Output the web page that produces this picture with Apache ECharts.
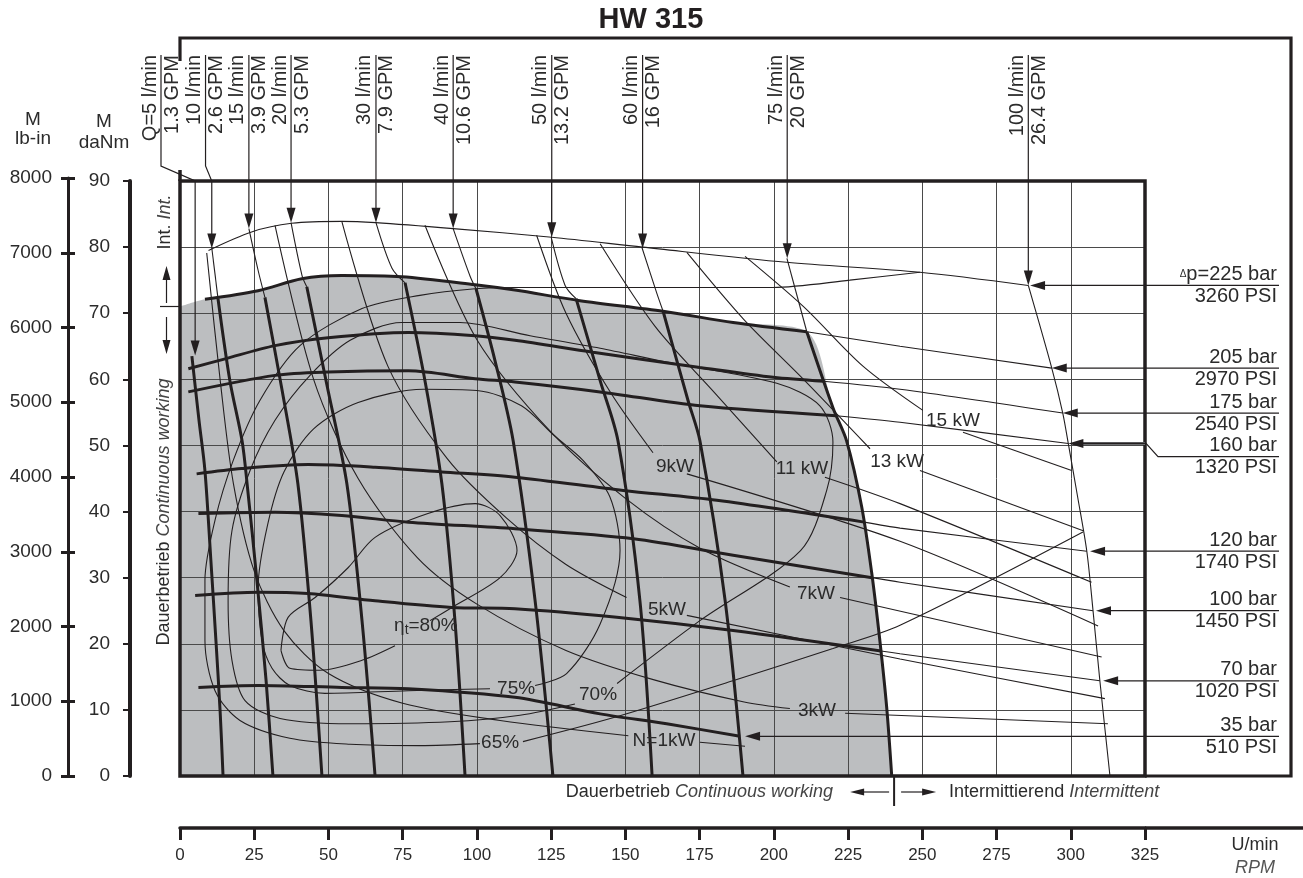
<!DOCTYPE html>
<html>
<head>
<meta charset="utf-8">
<title>HW 315</title>
<script src="https://cdn.jsdelivr.net/npm/echarts@6/dist/echarts.min.js"></script>
<style>
  html, body { margin: 0; padding: 0; background: #fff; }
  #chart { width: 1303px; height: 878px; }
</style>
</head>
<body>
<div id="chart"></div>
<script>
const rpmTicks = [0, 25, 50, 75, 100, 125, 150, 175, 200, 225, 250, 275, 300, 325];
const daNmTicks = [0, 10, 20, 30, 40, 50, 60, 70, 80, 90];
const lbinTicks = [0, 1000, 2000, 3000, 4000, 5000, 6000, 7000, 8000];

// grijs vlak: Dauerbetrieb / continuous working
const continuousArea = [[0, 71.0], [8.4, 72.1], [26.3, 73.4], [41.0, 75.2], [54.5, 75.7], [74.7, 75.5], [99.4, 74.3], [112.8, 73.5], [134.7, 71.9], [162.7, 70.3], [186.3, 68.6], [211.1, 67.2], [220.0, 55.6], [224.5, 50.7], [229.6, 40.7], [233.0, 30.6], [235.7, 20.5], [238.0, 10.4], [239.7, 0]];

// drukcurves (dik = continu, dun = intermitterend)
const bar225 = [[9.6, 79.5], [24.1, 82.3], [37.6, 83.6], [54.5, 83.9], [65.9, 83.7], [92.0, 82.8], [125.2, 81.5], [155.8, 80.0], [204.3, 77.7], [249.2, 76.2], [285.7, 74.2]];
const bar205Cont = [[8.4, 72.1], [26.3, 73.4], [41.0, 75.2], [54.5, 75.7], [74.7, 75.5], [99.4, 74.3], [112.8, 73.5], [134.7, 71.9], [162.7, 70.3], [186.3, 68.6], [211.1, 67.2]];
const bar205Int = [[211.1, 67.2], [242.5, 65.0], [293.6, 61.7]];
const bar175Cont = [[2.8, 61.6], [15.2, 63.1], [32.0, 65.1], [49.9, 66.3], [77.0, 67.1], [99.4, 66.6], [112.8, 65.9], [139.1, 64.1], [175.1, 61.8], [199.8, 60.3], [216.7, 59.7]];
const bar175Int = [[216.7, 59.7], [242.5, 58.5], [297.3, 54.9]];
const bar160Cont = [[2.8, 58.1], [32.0, 60.6], [49.9, 61.1], [76.9, 61.3], [99.4, 60.1], [112.8, 59.6], [141.5, 58.1], [175.1, 56.0], [221.0, 54.5]];
const bar160Int = [[221.0, 54.5], [242.5, 53.5], [299.2, 50.3]];
const bar120Cont = [[5.6, 45.7], [20.8, 46.5], [43.2, 47.1], [65.7, 46.7], [88.1, 46.0], [112.8, 45.2], [149.3, 43.2], [180.8, 41.7], [230.4, 38.4]];
const bar120Int = [[230.4, 38.4], [242.5, 37.5], [305.4, 34.0]];
const bar100Cont = [[6.2, 39.7], [32.0, 39.9], [54.5, 39.4], [76.9, 38.4], [112.8, 37.4], [152.7, 35.9], [186.3, 33.4], [233.1, 30.0]];
const bar100Int = [[233.1, 30.0], [242.5, 29.3], [307.5, 25.0]];
const bar70Cont = [[5.1, 27.3], [26.4, 27.8], [43.1, 27.6], [65.7, 26.5], [91.5, 25.5], [112.8, 25.3], [147.1, 24.0], [186.3, 22.0], [236.1, 18.9]];
const bar70Int = [[236.1, 18.9], [242.5, 18.5], [309.8, 14.4]];
const bar35Cont = [[6.2, 13.4], [26.4, 13.7], [54.5, 13.4], [76.9, 13.2], [112.8, 11.9], [141.5, 9.4], [163.9, 7.9], [188.6, 6.0]];

// stroomcurves (l/min)
const q5Cont = [[4.0, 63.5], [6.4, 53.8], [8.4, 46.2], [10.4, 32.6], [12.1, 20.5], [13.5, 9.9], [14.5, 0]];
const q10Int = [[10.7, 79.9], [12.8, 72.2]];
const q10Cont = [[12.8, 72.2], [16.8, 59.8], [20.9, 50.7], [22.6, 44.2], [25.9, 29.6], [29.0, 14.4], [31.3, 0]];
const q15Int = [[23.2, 82.8], [26.3, 76.5], [28.6, 72.4]];
const q15Cont = [[28.6, 72.4], [34.4, 58.3], [39.7, 44.2], [44.1, 23.5], [47.8, 0]];
const q20Int = [[37.4, 83.7], [41.1, 75.7], [42.7, 74.0]];
const q20Cont = [[42.7, 74.0], [49.5, 59.1], [56.2, 44.2], [61.3, 23.5], [65.7, 0]];
const q30Int = [[66.0, 83.7], [71.4, 76.8], [75.8, 74.6]];
const q30Cont = [[75.8, 74.6], [82.5, 59.8], [88.2, 44.2], [92.6, 23.5], [96.0, 0]];
const q40Int = [[92.0, 82.8], [97.7, 75.6], [99.7, 73.7]];
const q40Cont = [[99.7, 73.7], [106.1, 62.8], [112.2, 50.7], [119.6, 26.5], [125.6, 0]];
const q50Int = [[125.0, 81.5], [129.7, 74.2], [133.4, 72.2]];
const q50Cont = [[133.4, 72.2], [141.5, 59.8], [147.5, 50.7], [154.9, 26.5], [159.0, 0]];
const q60Int = [[155.6, 79.9], [160.6, 73.0], [162.7, 70.3]];
const q60Cont = [[162.7, 70.3], [171.1, 56.8], [175.1, 50.7], [183.6, 26.5], [189.6, 0]];
const q75Int = [[204.4, 78.3], [211.1, 67.2]];
const q75Cont = [[211.1, 67.2], [220.0, 55.6], [224.5, 50.7], [229.6, 40.7], [233.0, 30.6], [235.7, 20.5], [238.0, 10.4], [239.7, 0]];
const q100Int = [[285.7, 74.2], [293.6, 61.7], [297.3, 54.9], [299.2, 50.2], [302.2, 42.5], [305.4, 34.0], [307.5, 25.0], [309.8, 14.4], [313.2, 0]];

// vermogenslijnen (kW), null = onderbreking voor het label
const kw1 = [[9.0, 79.1], [13.5, 60], [18.0, 44.2], [25, 31], [35, 22], [50, 15.5], [75, 11], [107.8, 8.4], [151, 6.1], null, [175.1, 5.1], [190.3, 4.5]];
const kw3 = [[32.0, 83.3], [45, 60], [60, 45], [80, 33], [100, 26], [130, 19], [160, 14.5], [190, 11.2], [205.4, 10.2], null, [224.0, 9.5], [312.5, 7.9]];
const kw5 = [[54.5, 83.9], [70, 62], [90, 48], [110, 39], [130, 32], [150.4, 27.0], null, [170.7, 24.3], [242.5, 17.7], [311.5, 11.7]];
const kw7 = [[82.5, 83.3], [100, 66], [125, 52], [150, 42], [175, 34.5], [205.4, 28.6], null, [222.3, 27.0], [310.4, 18.0]];
const kw9 = [[120.1, 81.8], [130, 70], [145, 58], [159.3, 48.9], null, [170.7, 45.7], [242.5, 35.5], [309.2, 22.7]];
const kw11 = [[141.5, 80.5], [160, 68], [180, 58], [201.0, 47.5], null, [217.2, 45.2], [242.5, 41.2], [307.0, 29.3]];
const kw13 = [[170.7, 79.2], [190, 69], [210, 60], [232.4, 49.5], null, [249.2, 46.2], [304.2, 37.1]];
const kw15 = [[190.3, 78.6], [210, 71], [230, 62], [250.2, 55.3], null, [263.7, 52.0], [300.3, 46.2]];

// rendementslijnen (eta_t)
const eta80 = [[34.0, 19.0], [36.4, 24.0], [45.5, 27.0], [56.6, 31.5], [65.7, 36.1], [83.5, 39.7], [99.4, 41.2], [107.8, 39.4], [113.5, 34.1], [107.8, 30.0], [91.6, 25.5], [84.2, 23.5], null, [72.4, 19.7], [61.3, 17.5], [47.2, 16.0], [37.0, 16.3], [34.0, 19.0]];
const eta75 = [[104.4, 13.2], [76.8, 12.9], [48.8, 12.5], [37.0, 13.7], [31.0, 16.3], [27.6, 20.5], [26.3, 28.5], [29.5, 38], [35, 46], [45, 52.5], [60, 56.5], [82, 58.5], [100, 58.3], [115, 56], [126, 51.5], [135.8, 47.7], [144.8, 42.2], [148.2, 34.1], [141.5, 23.0], [130.2, 15.5], [119.6, 13.7]];
const eta70 = [[133.0, 10.9], [114.5, 9.2], [90.9, 8.2], [57.3, 7.9], [33.7, 8.7], [21.9, 11.4], [17.5, 17.5], [16.2, 26.5], [17.5, 37.1], [23.6, 46.2], [32.0, 53.8], [43.8, 60.6], [57.3, 65.9], [74.7, 68.6], [94.3, 68.6], [117.9, 66.6], [141.5, 64.7], [163.9, 62.6], [201.0, 59.4], [215.5, 56.0], [219.9, 50.5], [217.8, 43.2], [209.0, 34.1], [175.1, 23.5], [147.2, 14.0]];
const eta65 = [[249.2, 76.2], [225.6, 75.0], [199.7, 73.9], [175.1, 73.9], [141.5, 73.9], [112.8, 73.9], [99.4, 73.7], [80.8, 72.7], [61.3, 70.7], [40.4, 65.1], [26.9, 56.8], [17.9, 47.7], [11.8, 38.7], [8.4, 29.6], [8.4, 20.5], [11.8, 12.9], [20.2, 8.4], [37.0, 5.7], [57.3, 4.8], [80.8, 4.6], [101.0, 4.9], null, [115.5, 5.2], [145.8, 8.8], [186.2, 14.4], [219.9, 19.3], [242.5, 22.8], [304.1, 36.9]];

// labels
const flowLpm = ['Q=5 l/min', '10 l/min', '15 l/min', '20 l/min', '30 l/min', '40 l/min', '50 l/min', '60 l/min', '75 l/min', '100 l/min'];
const flowGpm = ['1.3 GPM', '2.6 GPM', '3.9 GPM', '5.3 GPM', '7.9 GPM', '10.6 GPM', '13.2 GPM', '16 GPM', '20 GPM', '26.4 GPM'];
const flowTagRpm = [-6.4, 8.6, 23.2, 37.4, 66.0, 92.0, 125.2, 155.8, 204.5, 285.7];
const flowTip = [[5.1, 63.6], [10.7, 79.8], [23.2, 82.8], [37.4, 83.7], [66.0, 83.7], [92.0, 82.8], [125.2, 81.5], [155.8, 79.8], [204.5, 78.3], [285.7, 74.2]];

const pressBar = ['225 bar', '205 bar', '175 bar', '160 bar', '120 bar', '100 bar', '70 bar', '35 bar'];
const pressPsi = ['3260 PSI', '2970 PSI', '2540 PSI', '1320 PSI', '1740 PSI', '1450 PSI', '1020 PSI', '510 PSI'];
const pressTip = [[286.3, 74.2], [293.6, 61.7], [297.3, 54.9], [299.2, 50.3], [306.5, 34.0], [308.5, 25.0], [310.9, 14.4], [190.3, 6.0]];
const pressTagDaNm = [74.2, 61.7, 54.9, 48.3, 34.0, 25.0, 14.4, 6.0];

const powerText = ['N=1kW', '3kW', '5kW', '7kW', '9kW', '11 kW', '13 kW', '15 kW'];
const powerAt = [[163.0, 5.4], [214.5, 9.9], [164.0, 25.2], [214.2, 27.6], [166.7, 46.7], [209.5, 46.4], [241.5, 47.6], [260.3, 53.8]];
const etaText = ['{a|\u03b7}{s|t}{a|=80%}', '75%', '70%', '65%'];
const etaAt = [[82.8, 22.8], [113.2, 13.2], [140.8, 12.3], [107.8, 5.1]];

const FONT = '"Liberation Sans", Arial, sans-serif';
const INK = '#231f20';
const TXT = '#2b2b2b';

function pieces(arr) {
  const out = [[]];
  arr.forEach(p => { if (p === null) out.push([]); else out[out.length - 1].push(p); });
  return out.filter(s => s.length > 1);
}

function curve(data, width, z) {
  return {
    type: 'line', data: data, smooth: 0.3, symbol: 'none', silent: true,
    xAxisIndex: 0, yAxisIndex: 0, z: z,
    lineStyle: { color: INK, width: width }
  };
}

function drawVisualisation() {
  const chart = echarts.init(document.getElementById('chart'));

  const series = [{
    type: 'line', data: continuousArea, smooth: 0.3, symbol: 'none', silent: true,
    xAxisIndex: 0, yAxisIndex: 0, z: 1,
    lineStyle: { width: 0 }, areaStyle: { color: '#bcbec0', opacity: 1 }
  }];

  [bar225, bar205Int, bar175Int, bar160Int, bar120Int, bar100Int, bar70Int,
   q10Int, q15Int, q20Int, q30Int, q40Int, q50Int, q60Int, q75Int, q100Int]
    .forEach(d => series.push(curve(d, 1.1, 3)));
  [kw1, kw3, kw5, kw7, kw9, kw11, kw13, kw15, eta80, eta75, eta70, eta65]
    .forEach(d => pieces(d).forEach(s => series.push(curve(s, 1.1, 3))));
  [bar205Cont, bar175Cont, bar160Cont, bar120Cont, bar100Cont, bar70Cont, bar35Cont,
   q5Cont, q10Cont, q15Cont, q20Cont, q30Cont, q40Cont, q50Cont, q60Cont, q75Cont]
    .forEach(d => series.push(curve(d, 3, 4)));

  const gridLine = { show: true, lineStyle: { color: '#4a4a4a', width: 1 } };
  const hidden = { axisLine: { show: false }, axisTick: { show: false }, axisLabel: { show: false } };

  const option = {
    animation: false,
    backgroundColor: '#fff',
    grid: [
      { left: 180, top: 181, width: 965, height: 595, show: true, borderColor: INK, borderWidth: 3.5, backgroundColor: 'transparent', z: 10 },
      { left: 68, top: 178, width: 2, height: 598 }
    ],
    xAxis: [
      Object.assign({ gridIndex: 0, type: 'value', min: 0, max: 325, interval: 25, z: 2, splitLine: gridLine }, hidden),
      {
        gridIndex: 0, type: 'value', min: 0, max: 325, interval: 25, position: 'bottom', offset: 52,
        axisLine: { onZero: false, lineStyle: { color: INK, width: 3.5 } },
        axisTick: { length: 12, lineStyle: { color: INK, width: 3 } },
        axisLabel: { fontSize: 17, color: TXT, margin: 19, fontFamily: FONT, formatter: v => rpmTicks.includes(v) ? String(v) : '' },
        splitLine: { show: false }
      },
      { gridIndex: 1, type: 'value', show: false }
    ],
    yAxis: [
      Object.assign({ gridIndex: 0, type: 'value', min: 0, max: 90, interval: 10, z: 2, splitLine: gridLine }, hidden),
      {
        gridIndex: 0, type: 'value', min: 0, max: 90, interval: 10, position: 'left', offset: 50,
        axisLine: { show: true, onZero: false, lineStyle: { color: INK, width: 4 } },
        axisTick: { show: true, length: 7, lineStyle: { color: INK, width: 2 } },
        axisLabel: { fontSize: 19, color: TXT, margin: 20, fontFamily: FONT, formatter: v => daNmTicks.includes(v) ? String(v) : '' },
        splitLine: { show: false }
      },
      {
        gridIndex: 1, type: 'value', min: 0, max: 8000, interval: 1000, position: 'left',
        axisLine: { show: true, onZero: false, lineStyle: { color: INK, width: 3 } },
        axisTick: { show: true, length: 7, lineStyle: { color: INK, width: 3 } },
        axisLabel: { fontSize: 19, color: TXT, margin: 16, fontFamily: FONT, formatter: v => lbinTicks.includes(v) ? String(v) : '' },
        splitLine: { show: false }
      },
      {
        gridIndex: 1, type: 'value', min: 0, max: 8000, interval: 1000, position: 'left',
        splitLine: { show: false }, axisLabel: { show: false },
        axisLine: { show: false, onZero: false },
        axisTick: { show: true, inside: true, length: 7, lineStyle: { color: INK, width: 3 } }
      }
    ],
    series: series
  };
  chart.setOption(option);

  // versiering: labels, pijlen en kader
  const px = p => chart.convertToPixel({ seriesIndex: 0 }, p);
  const g = [];
  const text = (x, y, t, o) => g.push(Object.assign({ type: 'text', x: x, y: y, z: 50, style: Object.assign({ text: t, font: '19px ' + FONT, fill: TXT }, o || {}) }, (o && o.rot) ? { rotation: o.rot } : {}));
  const line = (pts, w, c) => g.push({ type: 'polyline', z: 40, shape: { points: pts }, style: { stroke: c || INK, lineWidth: w || 1.2, fill: null } });
  const tri = pts => g.push({ type: 'polygon', z: 41, shape: { points: pts }, style: { fill: INK } });

  const right = px([325, 0])[0], left = px([0, 0])[0], bottom = px([0, 0])[1], top = px([0, 90])[1];

  // titel en buitenkader
  text(651, 20, 'HW 315', { font: 'bold 29px ' + FONT, fill: INK, align: 'center', verticalAlign: 'middle' });
  line([[left, 61], [left, 38], [1291, 38], [1291, bottom], [right, bottom]], 3.2);
  line([[left, 170], [left, top]], 3.5);

  // stroomlabels bovenaan
  flowLpm.forEach((lab, i) => {
    const tip = px(flowTip[i]);
    const tx = px([flowTagRpm[i], 0])[0];
    const pts = Math.abs(tx - tip[0]) > 1.5
      ? [[tx, 55], [tx, 166], [tip[0], 181], [tip[0], tip[1] - 12]]
      : [[tip[0], 55], [tip[0], tip[1] - 12]];
    line(pts, 1.2);
    tri([[tip[0] - 4.5, tip[1] - 15], [tip[0] + 4.5, tip[1] - 15], [tip[0], tip[1]]]);
    text(tx - 1, 55, lab, { font: '20px ' + FONT, align: 'right', verticalAlign: 'bottom', rot: Math.PI / 2 });
    text(tx + 1, 55, flowGpm[i], { font: '20px ' + FONT, align: 'right', verticalAlign: 'top', rot: Math.PI / 2 });
  });

  // druklabels rechts
  pressBar.forEach((lab, i) => {
    const tip = px(pressTip[i]);
    const ty = px([0, pressTagDaNm[i]])[1];
    const pts = Math.abs(ty - tip[1]) > 1.5
      ? [[tip[0] + 12, tip[1]], [right + 1, tip[1]], [right + 13, ty], [1279, ty]]
      : [[tip[0] + 12, tip[1]], [1279, ty]];
    if (i === 3) line([[tip[0] + 12, tip[1]], [right, tip[1]]], 3, '#6d6e70');
    line(pts, 1.2);
    tri([[tip[0], tip[1]], [tip[0] + 15, tip[1] - 4.5], [tip[0] + 15, tip[1] + 4.5]]);
    const t = i === 0 ? '{d|\u0394}p=' + lab : lab;
    text(1277, ty - 1, t, { font: '20px ' + FONT, align: 'right', verticalAlign: 'bottom', rich: { d: { fontSize: 10, fontFamily: FONT, fill: TXT } } });
    text(1277, ty + 1, pressPsi[i], { font: '20px ' + FONT, align: 'right', verticalAlign: 'top' });
  });

  // vermogen- en rendementslabels
  powerText.forEach((t, i) => {
    const p = px(powerAt[i]);
    text(p[0], p[1], t, { align: 'center', verticalAlign: 'middle' });
  });
  etaText.forEach((t, i) => {
    const p = px(etaAt[i]);
    text(p[0], p[1], t, { align: 'center', verticalAlign: 'middle', rich: { a: { fontSize: 19, fontFamily: FONT, fill: TXT }, s: { fontSize: 14, fontFamily: FONT, fill: TXT, padding: [10, 0, 0, 0] } } });
  });

  // asopschriften links
  text(33, 120, 'M', { align: 'center', verticalAlign: 'middle' });
  text(33, 139, 'lb-in', { align: 'center', verticalAlign: 'middle' });
  text(104, 122, 'M', { align: 'center', verticalAlign: 'middle' });
  text(104, 143, 'daNm', { align: 'center', verticalAlign: 'middle' });
  const it = { i: { fontStyle: 'italic', fontSize: 18, fontFamily: FONT, fill: '#444' } };
  text(164, 512, 'Dauerbetrieb {i|Continuous working}', { font: '18px ' + FONT, align: 'center', verticalAlign: 'middle', rot: Math.PI / 2, rich: it });
  text(165, 222, 'Int. {i|Int.}', { font: '18px ' + FONT, align: 'center', verticalAlign: 'middle', rot: Math.PI / 2, rich: it });
  line([[160, 306.5], [left, 306.5]], 1.2);
  line([[166.5, 303], [166.5, 278]], 1.2);
  tri([[162.5, 280], [170.5, 280], [166.5, 266]]);
  line([[166.5, 317], [166.5, 342]], 1.2);
  tri([[162.5, 340], [170.5, 340], [166.5, 354]]);

  // onderste opschriften
  const split = px([240.5, 0])[0];
  line([[split, bottom], [split, 806]], 2);
  text(833, 792, 'Dauerbetrieb {i|Continuous working}', { font: '18px ' + FONT, align: 'right', verticalAlign: 'middle', rich: it });
  line([[split - 5, 792], [split - 32, 792]], 1.2);
  tri([[split - 30, 788.5], [split - 30, 795.5], [split - 44, 792]]);
  line([[split + 7, 792], [split + 30, 792]], 1.2);
  tri([[split + 28, 788.5], [split + 28, 795.5], [split + 42, 792]]);
  text(split + 55, 792, 'Intermittierend {i|Intermittent}', { font: '18px ' + FONT, align: 'left', verticalAlign: 'middle', rich: it });
  line([[right, bottom + 52], [1303, bottom + 52]], 3.5);
  text(1255, 845, 'U/min', { font: '18px ' + FONT, align: 'center', verticalAlign: 'middle' });
  text(1255, 868, 'RPM', { font: 'italic 18px ' + FONT, align: 'center', verticalAlign: 'middle', fill: '#555' });

  chart.setOption({ graphic: g });
  window.onresize = () => chart.resize();
}

window.addEventListener('load', drawVisualisation);
</script>
</body>
</html>
